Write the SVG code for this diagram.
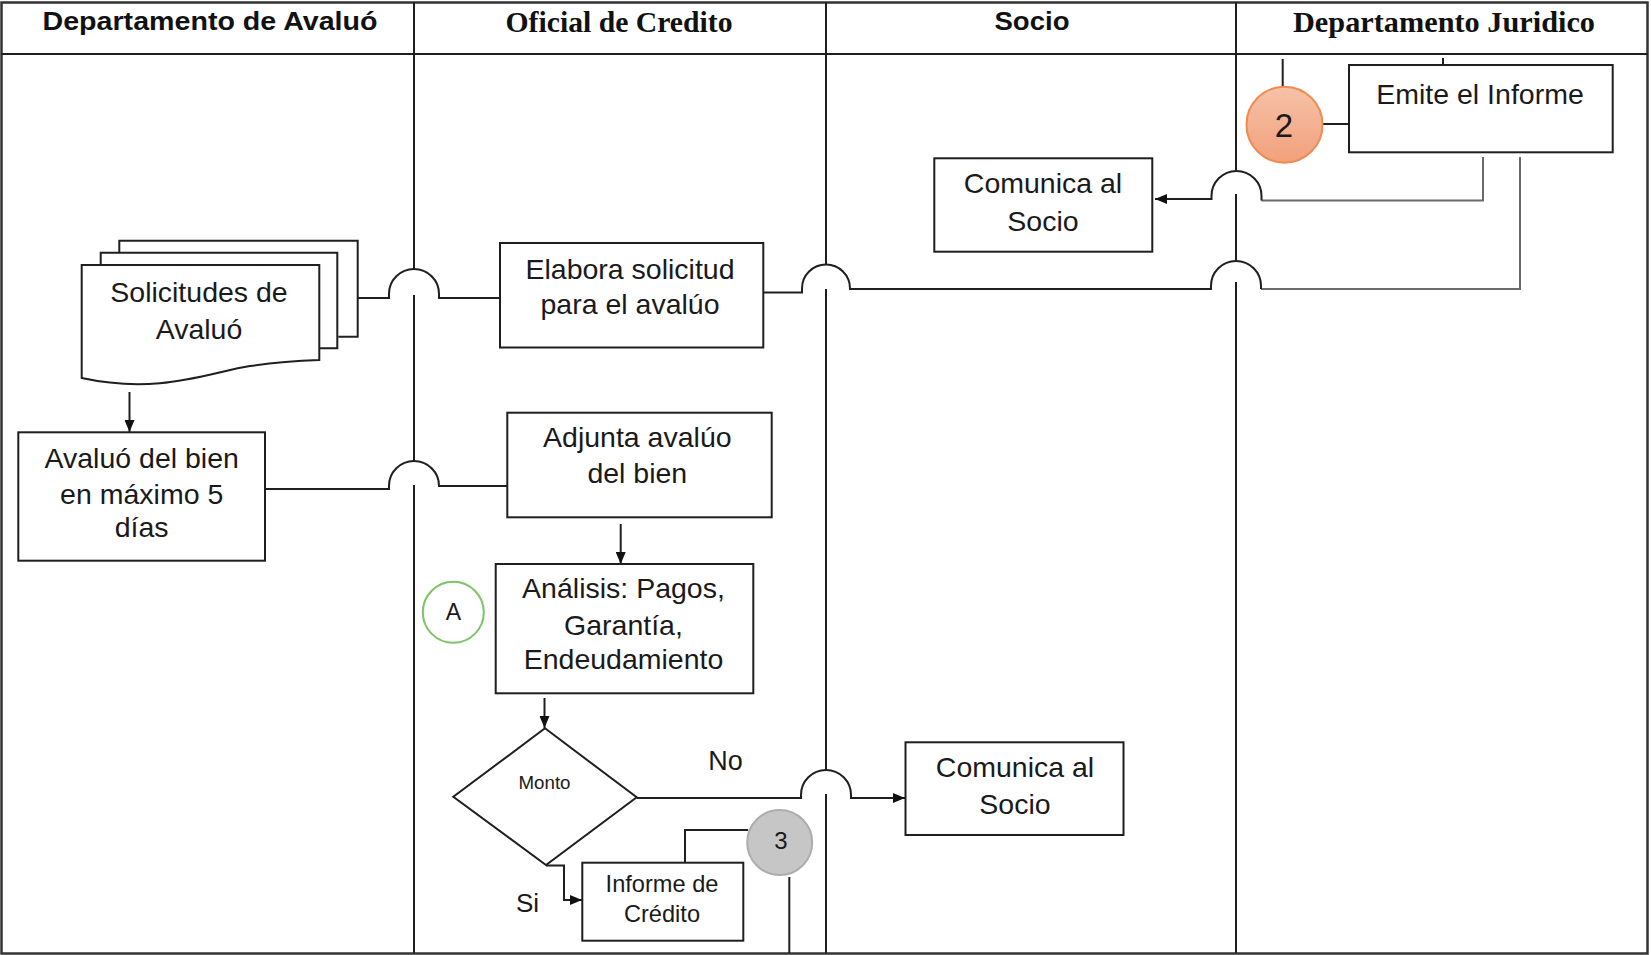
<svg xmlns="http://www.w3.org/2000/svg" width="1651" height="955" viewBox="0 0 1651 955">
<style>
.box{fill:#fff;stroke:#1f1f1f;stroke-width:2}
.ln{fill:none;stroke:#1f1f1f;stroke-width:2}
.gl{fill:none;stroke:#6a6a6a;stroke-width:2}
.lane{fill:none;stroke:#1f1f1f;stroke-width:2}
.t{font-family:"Liberation Sans",Arial,sans-serif;font-size:28.5px;fill:#1a1a1a;text-anchor:middle}
.hs{font-family:"Liberation Sans",Arial,sans-serif;font-weight:bold;font-size:26px;fill:#111;text-anchor:middle}
.hr{font-family:"Liberation Serif","Times New Roman",serif;font-weight:bold;font-size:28.5px;fill:#111;text-anchor:middle}
</style>
<defs>
<marker id="ah" viewBox="0 0 12 10" refX="12" refY="5" markerWidth="12" markerHeight="10" markerUnits="userSpaceOnUse" orient="auto">
<path d="M0,0 L12,5 L0,10 z" fill="#111"/>
</marker>
<linearGradient id="og" x1="0" y1="0" x2="0" y2="1">
<stop offset="0" stop-color="#F6C2A8"/>
<stop offset="1" stop-color="#F2A07C"/>
</linearGradient>
</defs>

<g id="table">
<rect x="1.5" y="2.5" width="1646" height="951" fill="#fff" stroke="#333" stroke-width="2.5"/>
<line x1="1.5" y1="54" x2="1647.5" y2="54" class="lane"/>
<line x1="414" y1="2.5" x2="414" y2="54" class="lane"/>
<line x1="826" y1="2.5" x2="826" y2="54" class="lane"/>
<line x1="1236" y1="2.5" x2="1236" y2="54" class="lane"/>
<path class="lane" d="M414,54 V269 M414,295 V461 M414,485 V953"/>
<path class="lane" d="M826,54 V264 M826,289 V770 M826,794 V953"/>
<path class="lane" d="M1236,54 V171 M1236,194 V261 M1236,282 V953"/>
<text class="hs" x="210" y="29.5" textLength="335" lengthAdjust="spacingAndGlyphs">Departamento de Avaluó</text>
<text class="hr" x="619" y="32.3" textLength="227" lengthAdjust="spacingAndGlyphs">Oficial de Credito</text>
<text class="hs" x="1032" y="29.5" textLength="75" lengthAdjust="spacingAndGlyphs">Socio</text>
<text class="hr" x="1444" y="32.3" textLength="302" lengthAdjust="spacingAndGlyphs">Departamento Juridico</text>
</g>

<g id="connectors">
<path class="ln" d="M358,298 H389 V294 A25,25 0 0 1 439,294 V298 H500"/>
<path class="ln" d="M265,489 H389 V486 A25,25 0 0 1 439,486 H507"/>
<path class="gl" d="M1520,157 V289 H1261"/>
<path class="ln" d="M1261,289 V286 A25,25 0 0 0 1211,286 V289 H850 V288.5 A24,24 0 0 0 802,288.5 V292.5 H763"/>
<path class="gl" d="M1483,157 V200.5 H1261.5"/>
<path class="ln" d="M1261.5,200.5 V196 A25,25 0 0 0 1211.5,196 V199 H1155" marker-end="url(#ah)"/>
<path class="ln" d="M636.7,798 H801 V795 A25,25 0 0 1 851,795 V798 H905" marker-end="url(#ah)"/>
<path class="ln" d="M1323,124 H1349"/>
<path class="ln" d="M1282.7,59 V86.7"/>
<path class="ln" d="M1443,58 V65"/>
<path class="ln" d="M685,862.7 V830 H748"/>
<path class="ln" d="M789.3,877 V953"/>
<path class="ln" d="M546,865.5 H564 V900 H582" marker-end="url(#ah)"/>
<path class="ln" d="M129.5,392 V432" marker-end="url(#ah)"/>
<path class="ln" d="M620.7,524 V564" marker-end="url(#ah)"/>
<path class="ln" d="M544.5,698 V728" marker-end="url(#ah)"/>
</g>

<g id="solicitudes">
<path class="box" d="M119.3,252.7 V240.7 H357.7 V336.7 H338.3"/>
<path class="box" d="M100.7,265 V252.7 H337.3 V348.3 H319.3"/>
<path class="box" d="M81.7,265 H319.3 V360 C290,361 270,363 250,366 C210,372 160,395 81.7,378 Z"/>
<text class="t" x="199" y="301.7">Solicitudes de</text>
<text class="t" x="199" y="339.3">Avaluó</text>
</g>

<g id="avaluo">
<rect class="box" x="18.3" y="432.3" width="246.7" height="128.4"/>
<text class="t" x="141.7" y="468.3">Avaluó del bien</text>
<text class="t" x="141.7" y="504">en máximo 5</text>
<text class="t" x="141.7" y="537.3">días</text>
</g>

<g id="elabora">
<rect class="box" x="500" y="243" width="263.3" height="104.5"/>
<text class="t" x="630" y="279">Elabora solicitud</text>
<text class="t" x="630" y="314">para el avalúo</text>
</g>

<g id="adjunta">
<rect class="box" x="507.3" y="412.7" width="264.4" height="104.6"/>
<text class="t" x="637.3" y="446.7">Adjunta avalúo</text>
<text class="t" x="637.3" y="483.3">del bien</text>
</g>

<g id="analisis">
<rect class="box" x="495.7" y="564" width="257.6" height="129.3"/>
<text class="t" x="623.5" y="598.3">Análisis: Pagos,</text>
<text class="t" x="623.5" y="635">Garantía,</text>
<text class="t" x="623.5" y="669.3">Endeudamiento</text>
</g>

<g id="conectorA">
<circle cx="453.3" cy="612.3" r="30.5" fill="#fff" stroke="#7CC36A" stroke-width="2"/>
<text class="t" x="453.3" y="620" style="font-size:23px">A</text>
</g>

<g id="monto">
<path class="box" d="M545,728.3 L636.7,797.3 L546,865 L453.3,796.7 Z"/>
<text class="t" x="544.5" y="789.3" style="font-size:18px" textLength="52" lengthAdjust="spacingAndGlyphs">Monto</text>
<text class="t" x="725.5" y="770" style="font-size:27px">No</text>
<text class="t" x="527.5" y="911.7" style="font-size:26px">Si</text>
</g>

<g id="informe">
<rect class="box" x="582.3" y="862.7" width="161" height="78"/>
<text class="t" x="662" y="891.7" style="font-size:23.6px">Informe de</text>
<text class="t" x="662" y="921.7" style="font-size:23.6px">Crédito</text>
</g>

<g id="conector3">
<circle cx="779.7" cy="842.5" r="32.5" fill="#C6C6C6" stroke="#ADADAD" stroke-width="2"/>
<text class="t" x="781" y="849" style="font-size:24px">3</text>
</g>

<g id="comunica1">
<rect class="box" x="934.3" y="158.3" width="218" height="93.4"/>
<text class="t" x="1043" y="193.3">Comunica al</text>
<text class="t" x="1043" y="230.7">Socio</text>
</g>

<g id="comunica2">
<rect class="box" x="905.5" y="742.3" width="218" height="92.7"/>
<text class="t" x="1015" y="777">Comunica al</text>
<text class="t" x="1015" y="814">Socio</text>
</g>

<g id="emite">
<rect class="box" x="1349" y="65" width="263.7" height="87.3"/>
<text class="t" x="1480" y="104">Emite el Informe</text>
</g>

<g id="conector2">
<circle cx="1284.5" cy="124.7" r="38" fill="url(#og)" stroke="#EF8C52" stroke-width="2"/>
<text class="t" x="1284" y="137.3" style="font-size:33px">2</text>
</g>
</svg>
